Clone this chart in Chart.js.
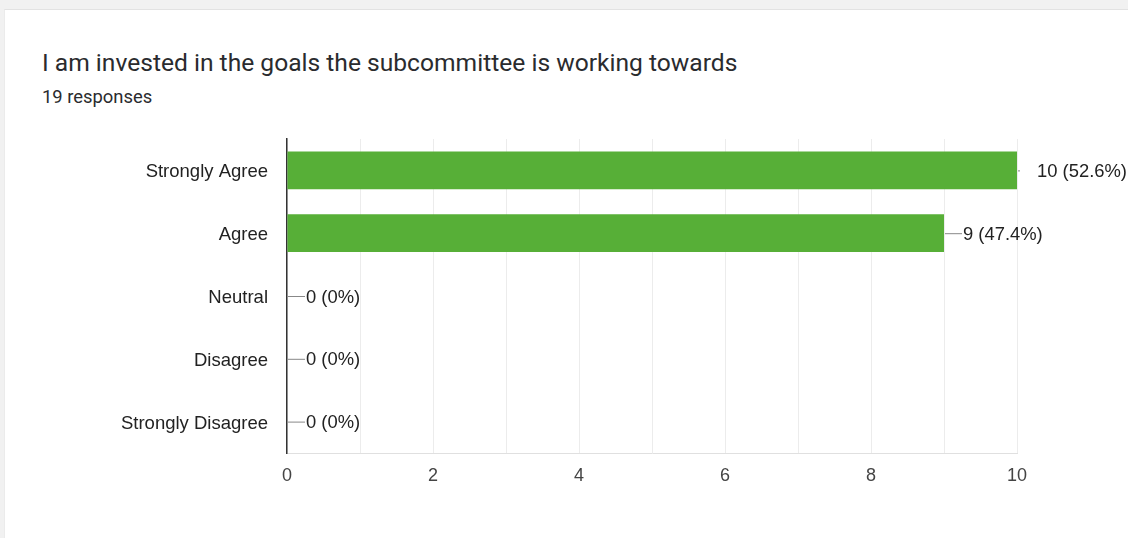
<!DOCTYPE html>
<html>
<head>
<meta charset="utf-8">
<script src="https://cdn.jsdelivr.net/npm/chart.js@4"></script>
<style>
  html, body { margin: 0; padding: 0; }
  body { width: 1128px; height: 538px; background: #f1f1f1; position: relative; overflow: hidden; }
  .card { position: absolute; left: 4px; top: 9px; width: 1140px; height: 540px; background: #fff;
          border-top: 1px solid #e2e2e2; border-left: 1px solid #ebebeb; }
  .title { position: absolute; left: 42px; top: 48px; font: 24.6px Roboto, sans-serif; color: #2a2b2e; white-space: nowrap; }
  .sub { position: absolute; left: 42px; top: 86px; font: 18.4px Roboto, sans-serif; color: #2a2b2e; }
  canvas { position: absolute; left: 0; top: 0; }
</style>
</head>
<body>
<div class="card"></div>
<div class="title">I am invested in the goals the subcommittee is working towards</div>
<div class="sub">19 responses</div>
<canvas id="chart" width="1128" height="538"></canvas>
<script>
const categories = ["Strongly Agree", "Agree", "Neutral", "Disagree", "Strongly Disagree"];
const counts = [10, 9, 0, 0, 0];
const percents = ["52.6%", "47.4%", "0%", "0%", "0%"];
const xTicks = [0, 2, 4, 6, 8, 10];

const labelPlugin = {
    id: 'barLabels',
    afterDatasetsDraw(chart) {
        const ctx = chart.ctx;
        const meta = chart.getDatasetMeta(0);
        ctx.save();
        ctx.font = '18.4px "Liberation Sans", Arial, sans-serif';
        ctx.textBaseline = 'middle';
        meta.data.forEach((bar, i) => {
            const x = bar.x;
            const y = bar.y;
            const gap = counts[i] == 10 ? 20 : 19;
            ctx.strokeStyle = '#888888';
            ctx.lineWidth = 1;
            ctx.beginPath();
            ctx.moveTo(x + 1, y + 0.5);
            ctx.lineTo(x + (counts[i] == 10 ? 3 : gap - 1), y + 0.5);
            ctx.stroke();
            ctx.fillStyle = '#222222';
            ctx.fillText(counts[i] + ' (' + percents[i] + ')', x + gap, y + 1.5);
        });
        ctx.restore();
    }
};

new Chart(document.getElementById('chart'), {
    type: 'bar',
    data: {
        labels: categories,
        datasets: [{
            data: counts,
            backgroundColor: '#57af37',
            borderWidth: 0,
            barPercentage: 0.6,
            categoryPercentage: 1.0
        }]
    },
    options: {
        indexAxis: 'y',
        responsive: false,
        animation: false,
        layout: { padding: { top: 139, right: 111, bottom: 0, left: 0 } },
        plugins: { legend: { display: false }, tooltip: { enabled: false } },
        scales: {
            x: {
                min: 0, max: 10,
                afterFit: (s) => { s.height = 85; },
                ticks: {
                    stepSize: 1,
                    autoSkip: false,
                    maxRotation: 0,
                    padding: 12,
                    color: '#444444',
                    font: { family: '"Liberation Sans", Arial, sans-serif', size: 18 },
                    callback: (v) => xTicks.includes(v) ? String(v) : ''
                },
                grid: { color: '#ececec', lineWidth: 1, drawTicks: false },
                border: { color: '#e0e0e0' }
            },
            y: {
                afterFit: (s) => { s.width = 287; },
                ticks: {
                    padding: 19,
                    labelOffset: 2,
                    color: '#222222',
                    font: { family: '"Liberation Sans", Arial, sans-serif', size: 18.5 }
                },
                grid: { display: false, drawTicks: false },
                border: { color: '#333333', width: 1.5 }
            }
        }
    },
    plugins: [labelPlugin]
});
</script>
</body>
</html>
